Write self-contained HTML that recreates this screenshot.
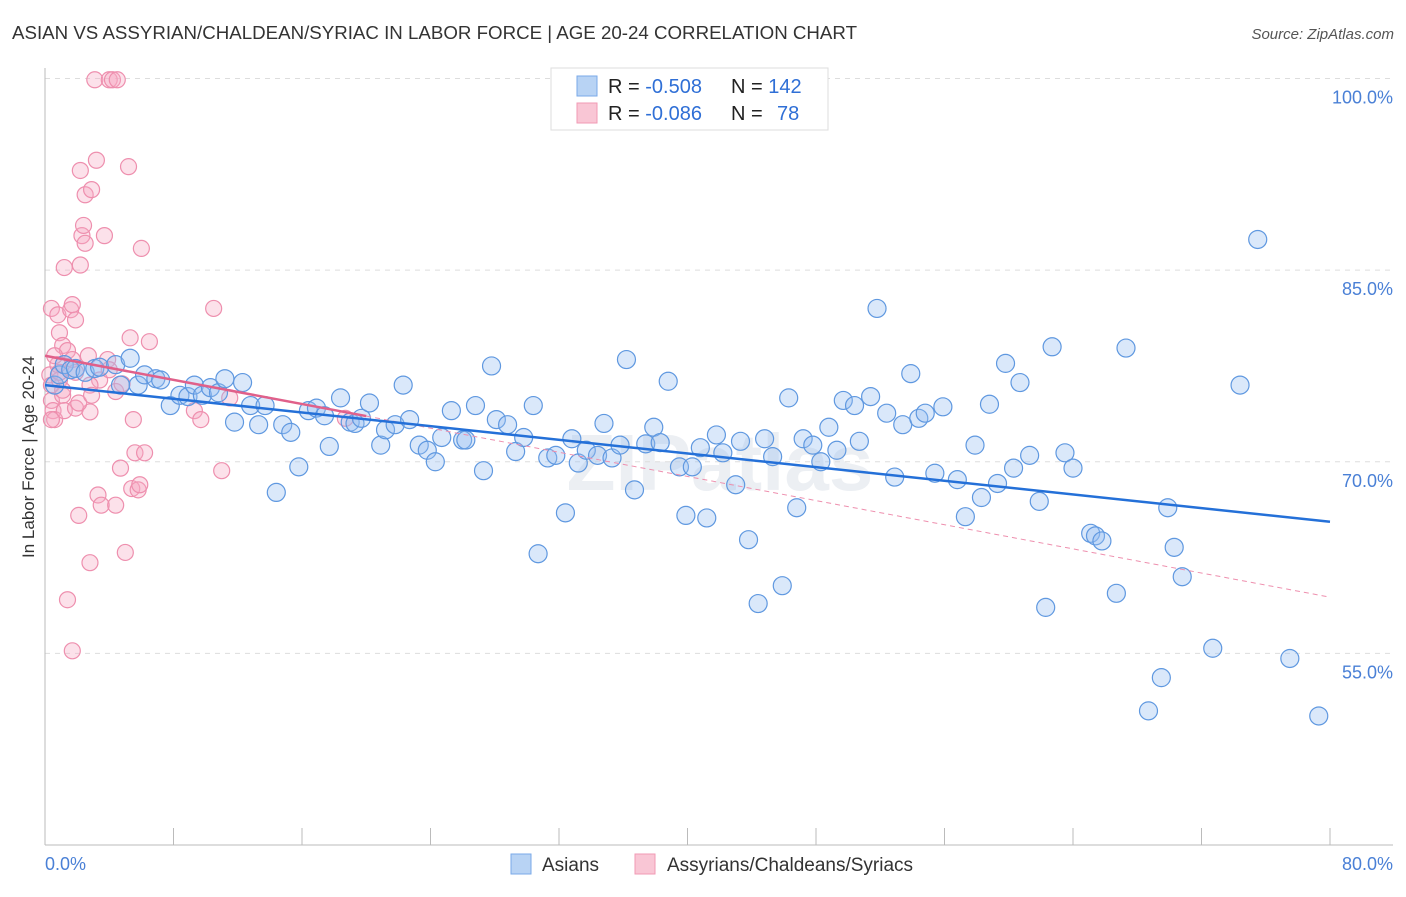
<!DOCTYPE html>
<html><head><meta charset="utf-8">
<style>
body{margin:0;background:#fff;font-family:"Liberation Sans",sans-serif;}
svg text{font-family:"Liberation Sans",sans-serif;}
</style></head>
<body>
<svg id="chart" width="1406" height="892" viewBox="0 0 1406 892" xmlns="http://www.w3.org/2000/svg">
<text x="12" y="39" font-size="18" fill="#333" textLength="845" lengthAdjust="spacingAndGlyphs">ASIAN VS ASSYRIAN/CHALDEAN/SYRIAC IN LABOR FORCE | AGE 20-24 CORRELATION CHART</text>
<text x="1394" y="39" font-size="15" fill="#555" text-anchor="end" font-style="italic">Source: ZipAtlas.com</text>
<text x="720" y="490" font-size="80" fill="#eceff3" text-anchor="middle" font-weight="bold">ZIPatlas</text>
<g id="grid"></g>
<g id="axes"></g>
<g id="pink"></g>
<g id="blue"></g>
<g id="trends"></g>
<text transform="translate(34,457) rotate(-90)" font-size="17" fill="#333" text-anchor="middle">In Labor Force | Age 20-24</text>
<g>
<rect x="551" y="68" width="277" height="62" fill="#fff" stroke="#ddd"/>
<rect x="577" y="76" width="20" height="20" fill="#b8d3f4" stroke="#7aaae8"/>
<rect x="577" y="103" width="20" height="20" fill="#f9c6d5" stroke="#f19ab4"/>
<text x="608" y="93" font-size="20" fill="#222">R = <tspan fill="#2f6fd6">-0.508</tspan></text>
<text x="731" y="93" font-size="20" fill="#222">N = <tspan fill="#2f6fd6">142</tspan></text>
<text x="608" y="120" font-size="20" fill="#222">R = <tspan fill="#2f6fd6">-0.086</tspan></text>
<text x="731" y="120" font-size="20" fill="#222">N = <tspan fill="#2f6fd6" x="777">78</tspan></text>
</g>
<g>
<rect x="511" y="854" width="20" height="20" fill="#b8d3f4" stroke="#7aaae8"/>
<text x="542" y="871" font-size="19" fill="#333">Asians</text>
<rect x="635" y="854" width="20" height="20" fill="#f9c6d5" stroke="#f19ab4"/>
<text x="667" y="871" font-size="19" fill="#333">Assyrians/Chaldeans/Syriacs</text>
</g>
</svg>
<script>
const yTicks=[100,85,70,55];
const yTickLabels=["100.0%","85.0%","70.0%","55.0%"];
const xTicks=[0,8,16,24,32,40,48,56,64,72,80];
const xEndLabels=["0.0%","80.0%"];
const blueX=[0.6,0.9,1.2,1.6,1.9,2.5,3.1,3.4,4.4,4.7,5.3,5.8,6.2,6.9,7.2,7.8,8.4,8.9,9.3,9.8,10.3,10.8,11.2,11.8,12.3,12.8,13.3,13.7,14.4,14.8,15.3,15.8,16.4,16.9,17.4,17.7,18.4,19.0,19.3,19.7,20.2,20.9,21.2,21.8,22.3,22.7,23.3,23.8,24.3,24.7,25.3,26.0,26.2,26.8,27.3,27.8,28.1,28.8,29.3,29.8,30.4,30.7,31.3,31.8,32.4,32.8,33.2,33.7,34.4,34.8,35.3,35.8,36.2,36.7,37.4,37.9,38.3,38.8,39.5,39.9,40.3,40.8,41.2,41.8,42.2,43.0,43.3,43.8,44.4,44.8,45.3,45.9,46.3,46.8,47.2,47.8,48.3,48.8,49.3,49.7,50.4,50.7,51.4,51.8,52.4,52.9,53.4,53.9,54.4,54.8,55.4,55.9,56.8,57.3,57.9,58.3,58.8,59.3,59.8,60.3,60.7,61.3,61.9,62.3,62.7,63.5,64.0,65.1,65.4,65.8,66.7,67.3,68.7,69.5,69.9,70.3,70.8,72.7,74.4,75.5,77.5,79.3];
const blueY=[76.0,76.8,77.6,77.2,77.3,77.0,77.3,77.4,77.6,76.0,78.1,76.0,76.8,76.5,76.4,74.4,75.2,75.1,76.0,75.2,75.8,75.4,76.5,73.1,76.2,74.4,72.9,74.4,67.6,72.9,72.3,69.6,74.0,74.2,73.6,71.2,75.0,73.1,73.0,73.4,74.6,71.3,72.5,72.9,76.0,73.3,71.3,70.9,70.0,71.9,74.0,71.7,71.7,74.4,69.3,77.5,73.3,72.9,70.8,71.9,74.4,62.8,70.3,70.5,66.0,71.8,69.9,70.9,70.5,73.0,70.3,71.3,78.0,67.8,71.4,72.7,71.5,76.3,69.6,65.8,69.6,71.1,65.6,72.1,70.7,68.2,71.6,63.9,58.9,71.8,70.4,60.3,75.0,66.4,71.8,71.3,70.0,72.7,70.9,74.8,74.4,71.6,75.1,82.0,73.8,68.8,72.9,76.9,73.4,73.8,69.1,74.3,68.6,65.7,71.3,67.2,74.5,68.3,77.7,69.5,76.2,70.5,66.9,58.6,79.0,70.7,69.5,64.4,64.2,63.8,59.7,78.9,50.5,53.1,66.4,63.3,61.0,55.4,76.0,87.4,54.6,50.1];
const pinkX=[0.3,0.4,0.4,0.5,0.6,0.4,0.8,0.9,1.1,1.2,1.4,1.6,1.7,1.9,1.7,0.8,0.9,1.1,1.2,1.4,1.7,1.9,2.1,2.2,2.3,2.4,2.5,2.5,2.2,2.7,2.8,2.8,2.9,3.1,3.2,3.3,3.4,3.5,3.7,3.9,4.0,4.2,4.4,4.4,4.5,4.7,4.8,5.0,5.2,5.3,5.4,5.5,5.6,5.8,5.9,6.0,6.2,6.5,9.3,9.7,10.5,11.0,11.5,18.7,4.0,0.6,0.9,1.9,2.8,0.4,1.1,2.1,2.9];
const pinkY=[76.8,76.0,74.8,74.0,73.3,82.0,81.5,80.1,79.1,85.2,78.7,81.9,82.3,81.1,78.0,77.6,76.4,75.2,74.0,59.2,55.2,74.2,65.8,92.8,87.7,88.5,90.9,87.1,85.4,78.3,73.9,62.1,91.3,99.9,93.6,67.4,76.4,66.6,87.7,78.0,99.9,99.9,75.5,66.6,99.9,69.5,76.1,62.9,93.1,79.7,67.9,73.3,70.7,67.8,68.2,86.7,70.7,79.4,74.0,73.3,82.0,69.3,75.0,73.4,77.2,78.3,77.0,77.0,76.0,73.3,75.6,74.6,75.2];
const blueTrendX=[0,80];
const blueTrendY=[76.0,65.3];
const pinkTrendX=[0,80];
const pinkTrendY=[78.3,59.4];
const pinkSolidEnd=20;

const NS="http://www.w3.org/2000/svg";
const X0=45,X1=1330,YT=78.5,YB=845,YMIN=40,YMAX=100;
function sx(v){return X0+(v/80)*(X1-X0);}
function sy(v){return YB-(v-YMIN)/(YMAX-YMIN)*(YB-YT);}
function mk(tag,parent,attrs){const e=document.createElementNS(NS,tag);for(const k in attrs)e.setAttribute(k,attrs[k]);parent.appendChild(e);return e;}
const grid=document.getElementById('grid'),axes=document.getElementById('axes');
yTicks.forEach((t,i)=>{
  const l=mk('line',grid,{x1:45,x2:1393,y1:sy(t),y2:sy(t),stroke:'#ddd','stroke-dasharray':'5,5'});
  
  
  const tx=mk('text',axes,{x:1393,y:sy(t)+25,'font-size':18,fill:'#4a80d6','text-anchor':'end'});
  tx.textContent=yTickLabels[i];
  
  
});
const ya=mk('line',axes,{x1:45,x2:45,y1:68,y2:845,stroke:'#bbb'});


const xa=mk('line',axes,{x1:45,x2:1393,y1:845,y2:845,stroke:'#bbb'});


xTicks.forEach(t=>{
  const l=mk('line',axes,{x1:sx(t),x2:sx(t),y1:828,y2:845,stroke:'#bbb'});
  
  
});
const xl0=mk('text',axes,{x:45,y:870,'font-size':18,fill:'#4a80d6'});
xl0.textContent=xEndLabels[0];


const xl1=mk('text',axes,{x:1393,y:870,'font-size':18,fill:'#4a80d6','text-anchor':'end'});
xl1.textContent=xEndLabels[1];



const pg=document.getElementById('pink');
pinkX.forEach((x,i)=>{
  const c=mk('circle',pg,{cx:sx(x),cy:sy(pinkY[i]),r:8,fill:'rgba(246,170,195,0.35)',stroke:'#ee8fae','stroke-width':1.2});
  
  
});
const bg=document.getElementById('blue');
blueX.forEach((x,i)=>{
  const c=mk('circle',bg,{cx:sx(x),cy:sy(blueY[i]),r:9,fill:'rgba(150,190,240,0.35)',stroke:'#5f98e0','stroke-width':1.2});
  
  
});
const tg=document.getElementById('trends');
function ty(xs,ys,x){return ys[0]+(ys[1]-ys[0])*(x-xs[0])/(xs[1]-xs[0]);}
const pd=mk('line',tg,{x1:sx(pinkSolidEnd),y1:sy(ty(pinkTrendX,pinkTrendY,pinkSolidEnd)),x2:sx(pinkTrendX[1]),y2:sy(pinkTrendY[1]),stroke:'#ee8fae','stroke-width':1,'stroke-dasharray':'5,4'});


const ps=mk('line',tg,{x1:sx(pinkTrendX[0]),y1:sy(pinkTrendY[0]),x2:sx(pinkSolidEnd),y2:sy(ty(pinkTrendX,pinkTrendY,pinkSolidEnd)),stroke:'#e0608a','stroke-width':2.5});


const bl=mk('line',tg,{x1:sx(blueTrendX[0]),y1:sy(blueTrendY[0]),x2:sx(blueTrendX[1]),y2:sy(blueTrendY[1]),stroke:'#2470d8','stroke-width':2.5});


</script>
</body></html>
